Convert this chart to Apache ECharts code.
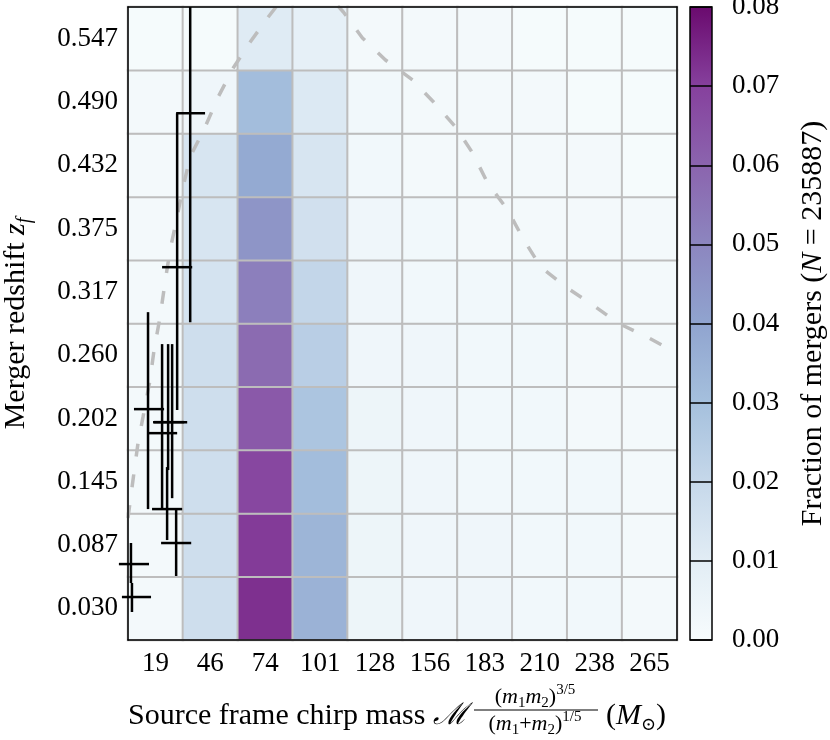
<!DOCTYPE html>
<html><head><meta charset="utf-8">
<script src="https://cdn.jsdelivr.net/npm/echarts@6.0.0/dist/echarts.min.js"></script>
<style>html,body{margin:0;padding:0;background:#fff}#c{width:830px;height:740px}</style>
</head><body><div id="c"></div>
<script>
// ---- axis categories ----
const massLabels = ['19','46','74','101','128','156','183','210','238','265'];
const zLabels = ['0.030','0.087','0.145','0.202','0.260','0.317','0.375','0.432','0.490','0.547'];
// bin edges of the histogram (continuous axes for overlays)
const massRange = [5.33, 278.67];
const zRange = [0.0013, 0.5757];

// ---- fraction of mergers per mass column, z bins bottom -> top ----
const frac19  = [0.002,0.002,0.002,0.002,0.002,0.002,0.002,0.002,0.002,0.001];
const frac46  = [0.017,0.017,0.017,0.017,0.017,0.015,0.014,0.014,0.004,0.001];
const frac74  = [0.073,0.071,0.068,0.063,0.058,0.052,0.045,0.038,0.031,0.011];
const frac101 = [0.035,0.034,0.031,0.028,0.024,0.021,0.016,0.014,0.012,0.008];
const frac128 = [0.005,0.005,0.005,0.005,0.004,0.004,0.004,0.003,0.003,0.002];
const frac156 = [0.004,0.004,0.004,0.004,0.004,0.003,0.003,0.002,0.002,0.002];
const frac183 = [0.004,0.004,0.003,0.003,0.003,0.003,0.002,0.002,0.002,0.002];
const frac210 = [0.003,0.003,0.003,0.003,0.003,0.003,0.002,0.002,0.002,0.001];
const frac238 = [0.003,0.003,0.003,0.002,0.002,0.002,0.002,0.002,0.001,0.001];
const frac265 = [0.002,0.002,0.002,0.002,0.002,0.002,0.002,0.001,0.001,0.001];
const fracColumns = [frac19,frac46,frac74,frac101,frac128,frac156,frac183,frac210,frac238,frac265];

// ---- colour scale ----
const cbColors = ['#f7fcfd','#e2edf5','#c6d8ea','#a5c0dd','#90a4cf','#8c86bf','#8b64ae','#86409d','#6a0a6e'];

// ---- observed events (chirp mass, redshift, error ranges) ----
const evMass   = [29.3, 6.8, 7.3, 36.3, 29.8, 15.3, 22.3, 27.3, 25.3, 24.8];
const evMassLo = [21.8, 0.8, 2.3, 29.3, 22.3,  8.3, 14.8, 17.8, 18.3, 17.3];
const evMassHi = [36.8,15.8,16.8, 43.7, 37.3, 23.3, 29.8, 34.8, 33.3, 32.3];
const evZ      = [0.0893,0.0702,0.0403,0.4793,0.3396,0.2108,0.1890,0.1990,0.1990,0.1201];
const evZLo    = [0.0594,0.0530,0.0267,0.2897,0.2099,0.1201,0.1201,0.1300,0.1555,0.0920];
const evZHi    = [0.1201,0.0893,0.0530,0.5757,0.4793,0.2988,0.2698,0.2698,0.2698,0.1582];

// ---- dashed curve ----
const curveMass = [5.33,7.82,10.32,12.81,16.30,18.30,21.29,23.79,26.28,29.77,32.77,36.26,43.74,50.22,57.71,66.18,75.16,83.64,93.62,103.59,112.57,122.05,133.52,146.98,157.46,168.43,176.91,184.39,194.37,201.85,210.83,223.30,236.77,249.24,264.70,278.67];
const curveZ    = [0.1120,0.1465,0.1801,0.2037,0.2372,0.2644,0.2944,0.3262,0.3552,0.3851,0.4124,0.4396,0.4668,0.4940,0.5203,0.5439,0.5666,0.5866,0.5984,0.5893,0.5712,0.5476,0.5276,0.5095,0.4895,0.4668,0.4432,0.4160,0.3915,0.3661,0.3398,0.3216,0.3053,0.2890,0.2753,0.2617];

const FONT = '"Liberation Serif", "DejaVu Serif", serif';
const TICK = 27, LABEL = 30;

const heatData = [];
fracColumns.forEach((col, i) => col.forEach((v, j) => heatData.push([i, j, v])));
const errData = evMass.map((m, i) => [m, evZ[i], evMassLo[i], evMassHi[i], evZLo[i], evZHi[i]]);
const curveData = curveMass.map((m, i) => [m, curveZ[i]]);

const chart = echarts.init(document.getElementById('c'), null, {renderer: 'canvas'});
const frameLine = {show: true, lineStyle: {color: '#000', width: 1.5}};

chart.setOption({
  animation: false,
  backgroundColor: '#fff',
  grid: [
    {left: 128, top: 7, width: 549, height: 633, show: false, containLabel: false, outerBoundsMode: 'none'},
    {left: 690, top: 7, width: 22, height: 633, show: true, borderColor: '#000', borderWidth: 1.5,
     containLabel: false, outerBoundsMode: 'none',
     backgroundColor: {type: 'linear', x: 0, y: 1, x2: 0, y2: 0,
       colorStops: cbColors.map((c, i) => ({offset: i / (cbColors.length - 1), color: c}))}}
  ],
  visualMap: {type: 'continuous', show: false, min: 0, max: 0.08, seriesIndex: 0, inRange: {color: cbColors}},
  xAxis: [
    {type: 'category', gridIndex: 0, data: massLabels, position: 'bottom', z: 6,
     axisLine: frameLine, axisTick: {show: false}, splitLine: {show: false},
     axisLabel: {fontFamily: FONT, fontSize: TICK, color: '#000', margin: 10}},
    {type: 'value', gridIndex: 0, min: massRange[0], max: massRange[1], position: 'top', z: 6,
     axisLine: frameLine, axisTick: {show: false}, axisLabel: {show: false}, splitLine: {show: false}},
    {type: 'value', gridIndex: 1, show: false, min: 0, max: 1}
  ],
  yAxis: [
    {type: 'category', gridIndex: 0, data: zLabels, position: 'left', z: 6,
     axisLine: frameLine, axisTick: {show: false}, splitLine: {show: false},
     axisLabel: {fontFamily: FONT, fontSize: TICK, color: '#000', margin: 10},
     name: '{a|Merger redshift }{z|z}{f|f}', nameLocation: 'middle', nameGap: 93,
     nameTextStyle: {fontFamily: FONT, fontSize: LABEL, color: '#000',
       rich: {a: {fontFamily: FONT, fontSize: LABEL, lineHeight: 38},
              z: {fontFamily: FONT, fontSize: LABEL, lineHeight: 38, fontStyle: 'italic'},
              f: {fontFamily: FONT, fontSize: 20, lineHeight: 20, fontStyle: 'italic', verticalAlign: 'bottom'}}}},
    {type: 'value', gridIndex: 0, min: zRange[0], max: zRange[1], position: 'right', z: 6,
     axisLine: frameLine, axisTick: {show: false}, axisLabel: {show: false}, splitLine: {show: false}},
    {type: 'value', gridIndex: 1, min: 0, max: 0.08, interval: 0.01, position: 'right', z: 6,
     axisLine: {show: false}, axisTick: {show: false},
     splitLine: {show: true, lineStyle: {color: '#000', width: 1.5}},
     axisLabel: {fontFamily: FONT, fontSize: TICK, color: '#000', margin: 20, showMinLabel: true, showMaxLabel: true,
       formatter: v => v.toFixed(2)},
     name: '{a|Fraction of mergers (}{n|N}{a| = 235887)}', nameLocation: 'middle', nameGap: 86,
     nameTextStyle: {fontFamily: FONT, fontSize: LABEL, color: '#000',
       rich: {a: {fontFamily: FONT, fontSize: LABEL}, n: {fontFamily: FONT, fontSize: LABEL, fontStyle: 'italic'}}}}
  ],
  series: [
    {type: 'heatmap', xAxisIndex: 0, yAxisIndex: 0, data: heatData, z: 2,
     itemStyle: {borderColor: '#bdbdbd', borderWidth: 2}, emphasis: {disabled: true}},
    {type: 'line', xAxisIndex: 1, yAxisIndex: 1, data: curveData, z: 3, showSymbol: false, clip: true,
     lineStyle: {color: '#bdbdbd', width: 3.5, type: [13, 18]}},
    {type: 'custom', xAxisIndex: 1, yAxisIndex: 1, data: errData, z: 7, clip: false,
     encode: {x: 0, y: 1},
     renderItem: (params, api) => {
       const l = api.coord([api.value(2), api.value(1)]);
       const r = api.coord([api.value(3), api.value(1)]);
       const lo = api.coord([api.value(0), api.value(4)]);
       const hi = api.coord([api.value(0), api.value(5)]);
       const st = {stroke: '#000', lineWidth: 2.5};
       return {type: 'group', children: [
         {type: 'line', shape: {x1: l[0], y1: l[1], x2: r[0], y2: r[1]}, style: st},
         {type: 'line', shape: {x1: lo[0], y1: lo[1], x2: hi[0], y2: hi[1]}, style: st}
       ]};
     }}
  ],
  graphic: [
    {type: 'text', x: 128, y: 716, style: {text: 'Source frame chirp mass {s|ℳ}', fontFamily: FONT, fontSize: LABEL,
      fill: '#000', align: 'left', verticalAlign: 'middle',
      rich: {s: {fontFamily: FONT, fontSize: LABEL, fontStyle: 'italic'}}}},
    {type: 'text', x: 535, y: 697, style: {text: '({m|m}{s|1}{m|m}{s|2}){p|3/5}', fontFamily: FONT, fontSize: 22,
      fill: '#000', align: 'center', verticalAlign: 'middle',
      rich: {m: {fontFamily: FONT, fontSize: 22, fontStyle: 'italic', lineHeight: 28},
             s: {fontFamily: FONT, fontSize: 15, lineHeight: 15, verticalAlign: 'bottom'},
             p: {fontFamily: FONT, fontSize: 15, lineHeight: 15, verticalAlign: 'top'}}}},
    {type: 'line', shape: {x1: 474, y1: 710, x2: 598, y2: 710}, style: {stroke: '#000', lineWidth: 1.2}},
    {type: 'text', x: 535, y: 724, style: {text: '({m|m}{s|1}+{m|m}{s|2}){p|1/5}', fontFamily: FONT, fontSize: 22,
      fill: '#000', align: 'center', verticalAlign: 'middle',
      rich: {m: {fontFamily: FONT, fontSize: 22, fontStyle: 'italic', lineHeight: 28},
             s: {fontFamily: FONT, fontSize: 15, lineHeight: 15, verticalAlign: 'bottom'},
             p: {fontFamily: FONT, fontSize: 15, lineHeight: 15, verticalAlign: 'top'}}}},
    {type: 'text', x: 606, y: 716, style: {text: '({m|M}{s|⊙})', fontFamily: FONT, fontSize: LABEL,
      fill: '#000', align: 'left', verticalAlign: 'middle',
      rich: {m: {fontFamily: FONT, fontSize: LABEL, fontStyle: 'italic', lineHeight: 36},
             s: {fontFamily: FONT, fontSize: 18, lineHeight: 18, verticalAlign: 'bottom'}}}}
  ]
});
</script>
</body></html>
